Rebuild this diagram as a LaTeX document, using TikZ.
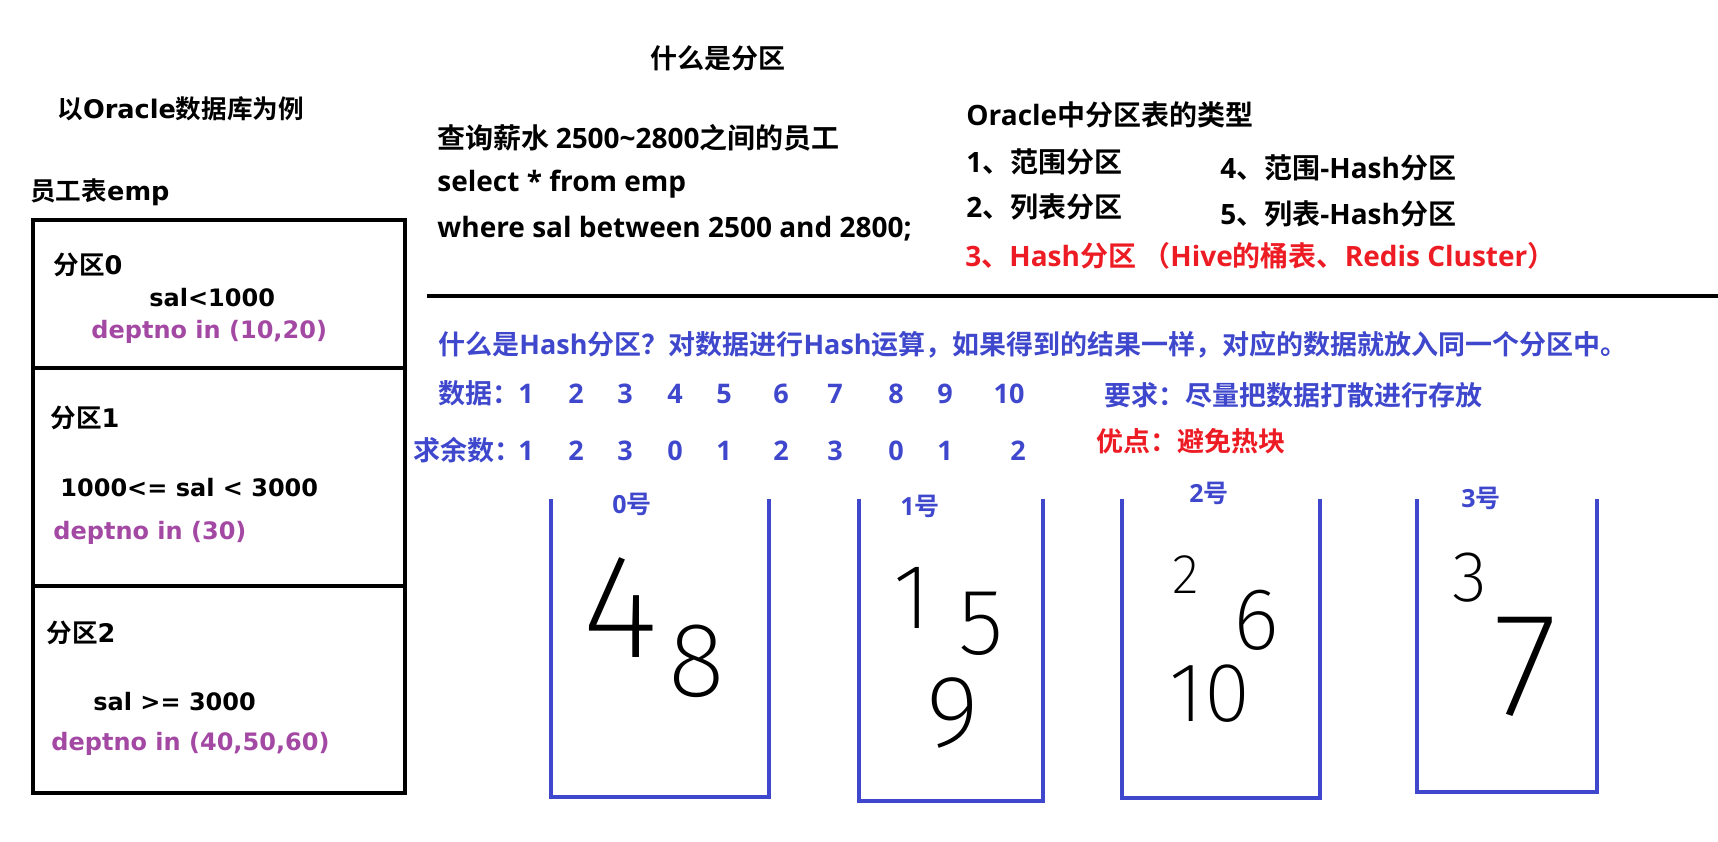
\documentclass[tikz,border=0pt]{standalone}
\usepackage{fontspec}
\setmainfont{Noto Sans CJK SC}[BoldFont={Noto Sans CJK SC Bold}]
\newfontfamily\la{Open Sans}
\newfontfamily\dv{DejaVu Sans}
\IfFontExistsTF{Fira Sans ExtraLight}{\newfontfamily\hand{Fira Sans ExtraLight}}{%
  \IfFontExistsTF{Fira Sans Light}{\newfontfamily\hand{Fira Sans Light}}{\newfontfamily\hand{Liberation Sans}}}
\definecolor{pur}{RGB}{163,73,164}
\definecolor{blu}{RGB}{63,72,204}
\definecolor{rd}{RGB}{237,28,36}

\begin{document}
\begin{tikzpicture}[x=0.5pt,y=-0.5pt,
    txt/.style={inner sep=0pt,anchor=base west,font=\bfseries\fontsize{14}{16}\selectfont},
    bluetxt/.style={inner sep=0pt,anchor=base west,text=blu,font=\bfseries\fontsize{13.5}{16}\selectfont},
    lhead/.style={inner sep=0pt,anchor=base west,font=\bfseries\fontsize{12.8}{15}\selectfont},
    lft/.style={inner sep=0pt,anchor=base west,font=\bfseries\dv\fontsize{12}{14}\selectfont},
    lbl/.style={inner sep=0pt,anchor=base,text=blu,font=\bfseries\fontsize{12.5}{15}\selectfont},
    digit/.style={inner sep=0pt,font=\hand\fontsize{#1}{#1}\selectfont},
    bucket/.style={draw=blu,line width=2.2pt}]
  \useasboundingbox (0,0) rectangle (1718,841);

  \node[anchor=base,inner sep=0pt,font=\bfseries\fontsize{13.5}{16}\selectfont] (title) at (718,68) {什么是分区};

  \node[lhead] (example) at (57,118) {以{\dv Oracle}数据库为例};
  \node[lhead] (emp) at (30,200) {员工表{\dv emp}};
  \draw[line width=2.2pt] (33,220) rectangle (405,793);
  \draw[line width=2pt] (33,368) -- (405,368);
  \draw[line width=2pt] (33,586) -- (405,586);
  \node[lhead] (p0) at (53,274) {分区{\dv 0}};
  \node[lft] (p0sal) at (149,306) {sal<1000};
  \node[lft,text=pur] (p0dept) at (91,338) {deptno in (10,20)};
  \node[lhead] (p1) at (50,427) {分区{\dv 1}};
  \node[lft] (p1sal) at (60,496) {1000<= sal < 3000};
  \node[lft,text=pur] (p1dept) at (53,539) {deptno in (30)};
  \node[lhead] (p2) at (46,642) {分区{\dv 2}};
  \node[lft] (p2sal) at (93,710) {sal >= 3000};
  \node[lft,text=pur] (p2dept) at (51,750) {deptno in (40,50,60)};

  \node[txt] (query) at (437,148) {查询薪水 {\la 2500\textasciitilde 2800}之间的员工};
  \node[txt] (select) at (437,191) {\la select * from emp};
  \node[txt] (where) at (437,237) {\la where sal between 2500 and 2800;};

  \node[txt] (types) at (966,125) {{\la Oracle}中分区表的类型};
  \node[txt] (t1) at (966,172) {{\la 1}、范围分区};
  \node[txt] (t4) at (1220,178) {{\la 4}、范围{\la -Hash}分区};
  \node[txt] (t2) at (966,217) {{\la 2}、列表分区};
  \node[txt] (t5) at (1220,224) {{\la 5}、列表{\la -Hash}分区};
  \node[txt,text=rd] (t3) at (965,266) {{\la 3}、{\la Hash}分区 （{\la Hive}的桶表、{\la Redis Cluster}）};

  \draw[line width=2pt] (427,296) -- (1718,296);

  \node[bluetxt] (hash) at (438,354) {什么是{\la Hash}分区？对数据进行{\la Hash}运算，如果得到的结果一样，对应的数据就放入同一个分区中。};
  \node[bluetxt] (data) at (438,403) {数据：};
  \foreach \x/\v [count=\i] in {526/1,576/2,625/3,675/4,724/5,781/6,835/7,896/8,945/9,1009/10}
    \node[bluetxt,anchor=base] (dat\i) at (\x,403) {\la \v};
  \node[bluetxt] (rem) at (413,460) {求余数：};
  \foreach \x/\v [count=\i] in {526/1,576/2,625/3,675/0,724/1,781/2,835/3,896/0,945/1,1018/2}
    \node[bluetxt,anchor=base] (rem\i) at (\x,460) {\la \v};
  \node[bluetxt] (need) at (1104,405) {要求：尽量把数据打散进行存放};
  \node[bluetxt,text=rd] (gain) at (1096,451) {优点：避免热块};

  \foreach \l/\r/\b in {551/769/797,859/1043/801,1122/1320/798,1417/1597/792}
    \draw[bucket] (\l,499) -- (\l,\b) -- (\r,\b) -- (\r,499);
  \node[lbl] (b0) at (632,513) {{\la 0}号};
  \node[lbl] (b1) at (920,515) {{\la 1}号};
  \node[lbl] (b2) at (1209,502) {{\la 2}号};
  \node[lbl] (b3) at (1481,507) {{\la 3}号};

  \node[digit=74] (h4) at (620,608) {4};
  \node[digit=53] (h8) at (697,661) {8};
  \node[digit=46] (h1) at (912,598) {1};
  \node[digit=47] (h5) at (981,624) {5};
  \node[digit=51] (h9) at (953,713) {9};
  \node[digit=28] (h2) at (1186,575) {2};
  \node[digit=44] (h6) at (1256,620) {6};
  \node[digit=42] (h10) at (1210,694) {10};
  \node[digit=36] (h3) at (1470,578) {3};
  \node[digit=74] (h7) at (1526,667) {7};
\end{tikzpicture}
\end{document}
